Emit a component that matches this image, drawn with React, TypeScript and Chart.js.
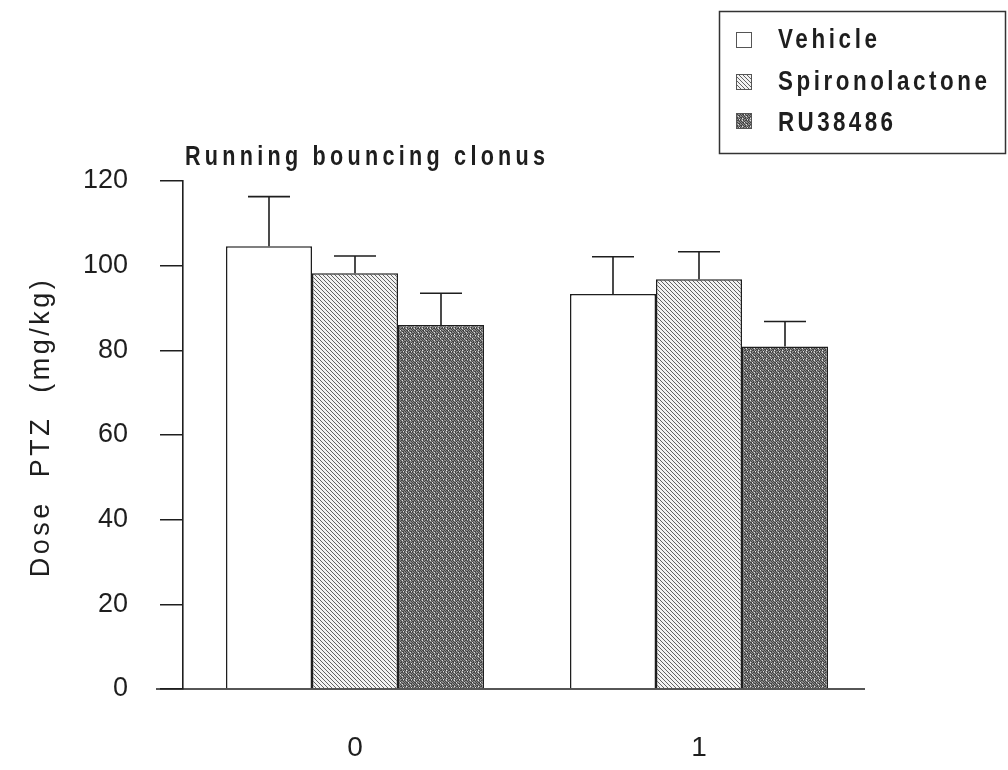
import React, { useEffect, useRef } from "react";
import { Chart, registerables } from "chart.js";

Chart.register(...registerables);

// ---- data ----
const categories = ["0", "1"];
const seriesNames = ["Vehicle", "Spironolactone", "RU38486"];
const vehicleMeans = [104.6, 93.3];
const vehicleErrs = [11.7, 8.8];
const spiroMeans = [98.2, 96.8];
const spiroErrs = [4.1, 6.5];
const ruMeans = [86.0, 80.9];
const ruErrs = [7.5, 5.9];
const yTickValues = [0, 20, 40, 60, 80, 100, 120];
const chartTitle = "Running bouncing clonus";
const yTitle = "Dose PTZ (mg/kg)";

const FONT = '"Liberation Sans", Arial, Helvetica, sans-serif';
const INK = "#1e1e1e";

function hatchPattern(): CanvasPattern | string {
  const c = document.createElement("canvas");
  c.width = 4;
  c.height = 4;
  const g = c.getContext("2d");
  if (!g) return "#c8c8c8";
  g.fillStyle = "#f2f2f2";
  g.fillRect(0, 0, 4, 4);
  g.strokeStyle = "#505050";
  g.lineWidth = 0.9;
  g.beginPath();
  g.moveTo(-1, -1);
  g.lineTo(5, 5);
  g.moveTo(-1, 3);
  g.lineTo(1, 5);
  g.moveTo(3, -1);
  g.lineTo(5, 1);
  g.stroke();
  return g.createPattern(c, "repeat") || "#c8c8c8";
}

const stippleRows = [
  "10010120",
  "01101011",
  "20110100",
  "11001010",
  "01201101",
  "10110010",
  "00101021",
  "11020110",
];

function stipplePattern(): CanvasPattern | string {
  const c = document.createElement("canvas");
  c.width = 8;
  c.height = 8;
  const g = c.getContext("2d");
  if (!g) return "#777777";
  const cols: Record<string, string> = { "0": "#444444", "1": "#888888", "2": "#e2e2e2" };
  stippleRows.forEach((row, y) => {
    row.split("").forEach((ch, x) => {
      g.fillStyle = cols[ch];
      g.fillRect(x, y, 1, 1);
    });
  });
  return g.createPattern(c, "repeat") || "#777777";
}

// draw text compressed horizontally and spread to a target width
function drawSpread(ctx: any, text: string, x: number, baseline: number, target: number, font: string, sx: number) {
  ctx.save();
  ctx.font = font;
  ctx.letterSpacing = "0px";
  ctx.textAlign = "left";
  ctx.textBaseline = "alphabetic";
  const natural = ctx.measureText(text).width * sx;
  const n = Math.max(1, text.length - 1);
  const sp = Math.max(0, (target - natural) / n / sx);
  ctx.letterSpacing = `${sp}px`;
  ctx.translate(x, baseline);
  ctx.scale(sx, 1);
  ctx.fillText(text, 0, 0);
  ctx.restore();
}

export default function App() {
  const ref = useRef<HTMLCanvasElement | null>(null);

  useEffect(() => {
    const canvas = ref.current;
    if (!canvas) return;
    const hatch = hatchPattern();
    const stipple = stipplePattern();
    const fills: any[] = ["#ffffff", hatch, stipple];
    const errs = [vehicleErrs, spiroErrs, ruErrs];

    const errorBars = {
      id: "errorBars",
      afterDatasetsDraw(chart: any) {
        const ctx = chart.ctx;
        const y = chart.scales.y;
        ctx.save();
        ctx.strokeStyle = INK;
        ctx.lineWidth = 1.6;
        chart.data.datasets.forEach((ds: any, i: number) => {
          const meta = chart.getDatasetMeta(i);
          meta.data.forEach((bar: any, j: number) => {
            const v = ds.data[j];
            const top = y.getPixelForValue(v + errs[i][j]);
            const base = y.getPixelForValue(v);
            const half = 21;
            ctx.beginPath();
            ctx.moveTo(bar.x, base);
            ctx.lineTo(bar.x, top);
            ctx.moveTo(bar.x - half, top);
            ctx.lineTo(bar.x + half, top);
            ctx.stroke();
          });
        });
        ctx.restore();
      },
    };

    const decorations = {
      id: "decorations",
      beforeDraw(chart: any) {
        const ys: any = chart.scales.y;
        if (ys && !ys.__patched) {
          const orig = ys.drawTitle.bind(ys);
          ys.drawTitle = (...args: any[]) => {
            const ctx: any = chart.ctx;
            ctx.save();
            ctx.letterSpacing = "3.5px";
            ctx.wordSpacing = "12px";
            ctx.translate(0, -8);
            orig(...args);
            ctx.restore();
          };
          ys.__patched = true;
        }
      },
      afterDraw(chart: any) {
        const ctx: any = chart.ctx;
        const area = chart.chartArea;
        const y0 = chart.scales.y.getPixelForValue(0);
        ctx.save();
        // x axis line
        ctx.strokeStyle = INK;
        ctx.lineWidth = 1.6;
        ctx.beginPath();
        ctx.moveTo(area.left - 27, y0);
        ctx.lineTo(area.right - 6, y0);
        ctx.stroke();

        // chart title
        ctx.fillStyle = INK;
        drawSpread(ctx, chartTitle, 185, 165, 360, `bold 27px ${FONT}`, 0.8);

        // legend box
        ctx.lineWidth = 1.5;
        ctx.strokeStyle = "#333";
        ctx.strokeRect(719.5, 11.5, 286, 142);
        const baselines = [48, 90, 131];
        const swTop = [32, 74, 113];
        const widths = [99, 209, 115];
        seriesNames.forEach((name, i) => {
          ctx.fillStyle = fills[i];
          ctx.fillRect(736, swTop[i], 16, 16);
          ctx.lineWidth = 1;
          ctx.strokeStyle = "#555";
          ctx.strokeRect(736.5, swTop[i] + 0.5, 15, 15);
          ctx.fillStyle = INK;
          drawSpread(ctx, name, 778, baselines[i], widths[i], `bold 28px ${FONT}`, 0.8);
        });
        ctx.restore();
      },
    };

    const chart = new Chart(canvas, {
      type: "bar",
      data: {
        labels: categories,
        datasets: [
          { label: seriesNames[0], data: vehicleMeans, backgroundColor: fills[0] },
          { label: seriesNames[1], data: spiroMeans, backgroundColor: fills[1] },
          { label: seriesNames[2], data: ruMeans, backgroundColor: fills[2] },
        ].map((d) => ({
          ...d,
          borderColor: INK,
          borderWidth: 1.5,
          borderSkipped: "bottom",
          categoryPercentage: 0.75,
          barPercentage: 1.0,
        })) as any,
      },
      options: {
        responsive: false,
        animation: false,
        devicePixelRatio: 1,
        layout: { padding: { top: 181, right: 137, left: 0, bottom: 0 } },
        plugins: {
          legend: { display: false },
          tooltip: { enabled: false },
          title: { display: false },
        },
        scales: {
          x: {
            grid: { display: false, drawTicks: false },
            border: { display: false },
            ticks: {
              color: INK,
              font: { family: FONT, size: 28 },
              padding: 42,
            },
            afterFit(scale: any) {
              scale.height = 81;
            },
          },
          y: {
            min: 0,
            max: 120,
            afterBuildTicks(scale: any) {
              scale.ticks = yTickValues.map((v) => ({ value: v }));
            },
            grid: {
              display: true,
              drawOnChartArea: false,
              drawTicks: true,
              tickLength: 23,
              color: INK,
              lineWidth: 1.5,
            },
            border: { display: true, color: INK, width: 1.6 },
            ticks: {
              color: INK,
              font: { family: FONT, size: 27 },
              padding: 32,
            },
            title: {
              display: true,
              text: yTitle,
              color: INK,
              font: { family: FONT, size: 27 },
              padding: { top: 25, bottom: 0 },
            },
            afterFit(scale: any) {
              scale.width = 183;
            },
          },
        },
      },
      plugins: [errorBars, decorations],
    });
    return () => chart.destroy();
  }, []);

  return (
    <div style={{ position: "absolute", left: 0, top: 0, width: 1008, height: 770, background: "#fff" }}>
      <canvas ref={ref} width={1008} height={770} style={{ width: 1008, height: 770, display: "block" }} />
    </div>
  );
}
